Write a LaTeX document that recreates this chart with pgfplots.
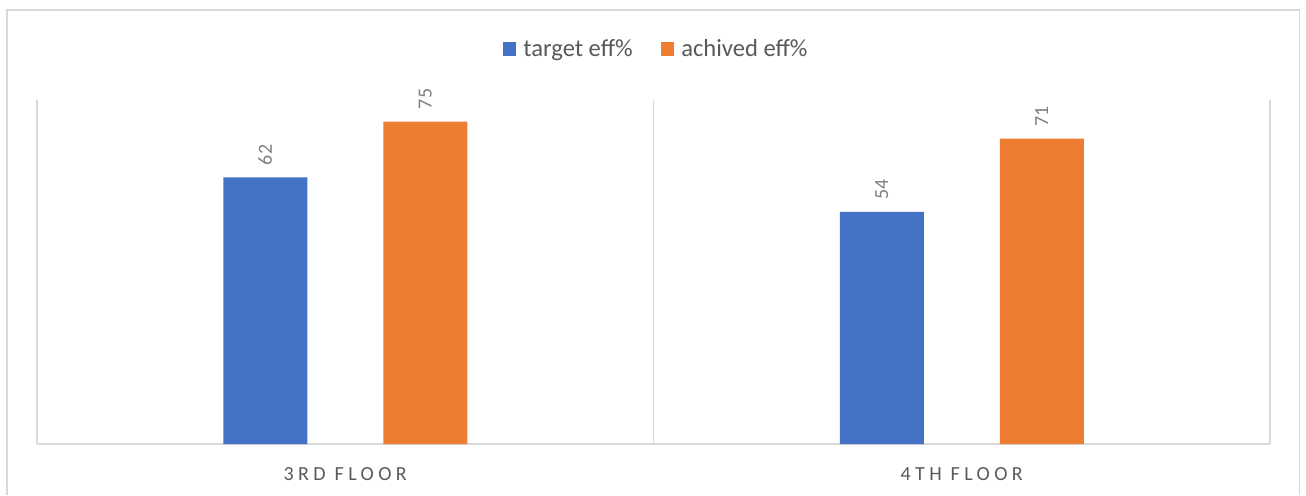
\documentclass[border=0pt]{standalone}
\usepackage{pgfplots}
\pgfplotsset{compat=1.18}
\usepackage{fontspec}
\setmainfont{Carlito}
\definecolor{cblue}{HTML}{4472C4}
\definecolor{corange}{HTML}{ED7D31}
\definecolor{ctext}{HTML}{595959}
\definecolor{clabel}{HTML}{7F7F7F}
\definecolor{cgrid}{HTML}{D9D9D9}
\begin{document}
\begin{tikzpicture}[x=1pt,y=1pt]
\useasboundingbox (0,0) rectangle (653,247.5);
\draw[cgrid, line width=0.8pt] (3.5,0) -- (3.5,242.5) -- (649.75,242.5) -- (649.75,0);
\begin{axis}[
  at={(18.5pt,25.5pt)}, anchor=south west,
  scale only axis, width=616.5pt, height=172pt,
  ymin=0, ymax=80, xmin=-0.5, xmax=1.5,
  axis x line=bottom, axis y line=none,
  x axis line style={cgrid, line width=0.8pt, -},
  xtick={0,1}, xticklabels={3RD FLOOR,4TH FLOOR},
  major tick length=0pt,
  minor xtick={-0.5,0.5,1.5}, minor tick length=0pt,
  xminorgrids, minor x grid style={cgrid, line width=0.8pt},
  xticklabel style={font=\fontsize{10}{12}\selectfont\addfontfeatures{LetterSpace=22}, text=ctext, anchor=north, yshift=-8pt},
  /pgf/number format/assume math mode=true,
  ybar, bar width=42pt,
  nodes near coords,
  nodes near coords style={rotate=90, anchor=west, inner xsep=6pt, font=\fontsize{10}{12}\selectfont, text=clabel},
  legend columns=2,
  legend style={at={(0.503,1.148)}, anchor=center, draw=none, fill=none,
    font=\fontsize{12.3}{14}\selectfont, text=ctext,
    /tikz/every odd column/.append style={column sep=1.5pt},
    /tikz/every even column/.append style={column sep=12pt}},
  legend image code/.code={\fill[#1] (0pt,-3.4pt) rectangle (6.8pt,3.4pt);},
  clip=false,
]
\addplot[fill=cblue, draw=none, bar shift=-40pt] coordinates {(0,62) (1,54)};
\addplot[fill=corange, draw=none, bar shift=40pt] coordinates {(0,75) (1,71)};
\legend{target eff\%, achived eff\%}
\end{axis}
\end{tikzpicture}
\end{document}
